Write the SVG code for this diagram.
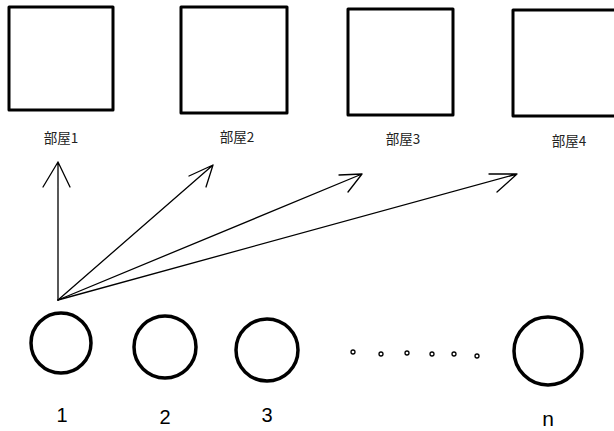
<svg xmlns="http://www.w3.org/2000/svg" width="614" height="431" viewBox="0 0 614 431">
  <style>
    .room { fill: #fff; stroke: #000; stroke-width: 3; stroke-linejoin: round; }
    .person { fill: #fff; stroke: #000; stroke-width: 3.5; }
    .dot { fill: none; stroke: #000; stroke-width: 1.3; }
    .edge { fill: none; stroke: #000; stroke-width: 1.3; stroke-linecap: round; stroke-linejoin: round; }
    .lbl { font-family: "Noto Sans CJK JP", "Noto Sans", sans-serif; font-size: 13.5px; fill: #222; text-anchor: middle; }
    .num { font-family: "Liberation Sans", Arial, sans-serif; font-size: 20px; fill: #000; text-anchor: middle; }
  </style>
  <rect width="614" height="431" fill="#fff"/>

  <!-- rooms -->
  <g id="room1"><rect class="room" x="9" y="7" width="104" height="103"/><text class="lbl" x="61" y="143">部屋1</text></g>
  <g id="room2"><rect class="room" x="181" y="7" width="106" height="106"/><text class="lbl" x="237" y="142">部屋2</text></g>
  <g id="room3"><rect class="room" x="348" y="9" width="105" height="106"/><text class="lbl" x="403" y="144">部屋3</text></g>
  <g id="room4"><rect class="room" x="513" y="10" width="110" height="106"/><text class="lbl" x="569" y="146">部屋4</text></g>

  <!-- assignment arrows from person 1 -->
  <g id="connectors">
    <path class="edge" d="M58 300 L58 162 M43 187 L58 162 L70 187"/>
    <path class="edge" d="M58 300 L213 165 M189 176 L213 165 L206 187"/>
    <path class="edge" d="M58 300 L362 174 M339 175 L362 174 L348 192"/>
    <path class="edge" d="M58 300 L517 174 M489 174 L517 174 L497 192"/>
  </g>

  <!-- people -->
  <g id="person1"><circle class="person" cx="61" cy="343" r="30"/><text class="num" x="62" y="422">1</text></g>
  <g id="person2"><circle class="person" cx="165" cy="347" r="31"/><text class="num" x="165" y="424">2</text></g>
  <g id="person3"><circle class="person" cx="267" cy="350" r="31"/><text class="num" x="267" y="422">3</text></g>
  <g id="personN"><circle class="person" cx="548" cy="351" r="34"/><text class="num" x="548" y="426" style="font-size:21px">n</text></g>

  <!-- ellipsis -->
  <g id="ellipsis">
    <circle class="dot" cx="353" cy="352" r="2"/>
    <circle class="dot" cx="381" cy="354" r="2"/>
    <circle class="dot" cx="407" cy="353" r="2"/>
    <circle class="dot" cx="432" cy="354" r="2"/>
    <circle class="dot" cx="454" cy="354" r="2"/>
    <circle class="dot" cx="477" cy="356" r="2"/>
  </g>
</svg>
